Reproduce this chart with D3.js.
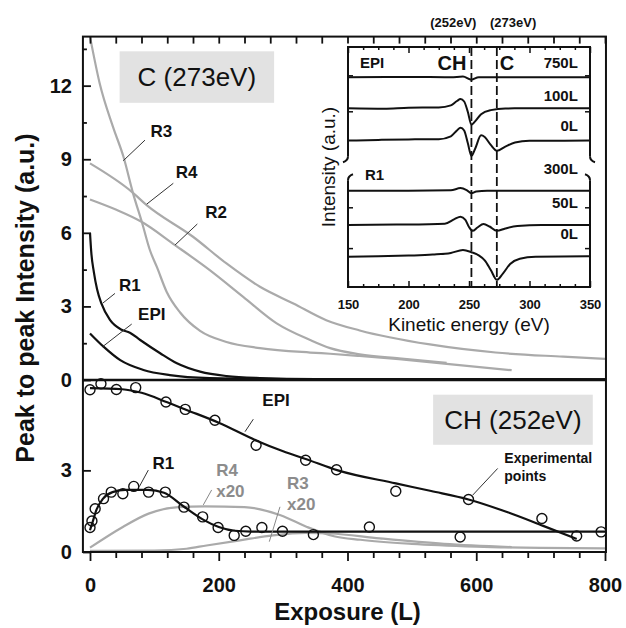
<!DOCTYPE html>
<html>
<head>
<meta charset="utf-8">
<script src="https://cdn.jsdelivr.net/npm/d3@7"></script>
<style>
  body { margin: 0; background: #fff; }
  svg { font-family: "Liberation Sans", Arial, sans-serif; }
</style>
</head>
<body>
<div id="chart"></div>
<script>
// ---- top panel: C (273eV) peak intensity vs exposure
const topR1 = [[0,6.0],[2,5.2],[6,4.4],[11,3.7],[18,3.1],[31,2.45],[49,2.05],[62,1.93],[78,1.63],[109,1.09],[135,0.68],[171,0.34],[212,0.16],[264,0.08],[350,0.04],[800,0.03]];
const topEPI = [[0,1.9],[21,1.36],[47,0.81],[83,0.41],[124,0.2],[186,0.08],[300,0.04],[800,0.03]];
const topR2 = [[0,7.36],[40,6.95],[80,6.45],[132,5.5],[186,4.48],[238,3.39],[290,2.31],[342,1.63],[373,1.3],[419,1.05],[480,0.88],[554,0.7]];
const topR3 = [[0,14],[15,12.1],[36,10.3],[52,9.1],[67,7.6],[81,6.4],[93,5.3],[104,4.6],[119,3.6],[140,2.75],[171,2.0],[212,1.55],[264,1.3],[342,1.12],[373,1.07],[419,0.98],[480,0.85],[554,0.66],[655,0.4]];
const topR4 = [[0,8.83],[65,7.67],[88,7.13],[160,5.84],[212,4.75],[264,3.8],[316,3.12],[367,2.44],[419,2.02],[528,1.45],[630,1.12],[735,0.95],[800,0.86]];

// ---- bottom panel: CH (252eV)
const botEPILine = [[0,6.02],[50,5.98],[80,5.85],[120,5.5],[150,5.22],[200,4.75],[258,4.1],[300,3.7],[335,3.42],[385,3.0],[475,2.52],[530,2.24],[588,1.93],[650,1.45],[704,0.96],[756,0.48]];
const botEPIPoints = [[0,5.96],[17,6.18],[41,5.97],[71,6.04],[118,5.51],[148,5.24],[194,4.84],[258,3.92],[335,3.37],[383,3.02],[475,2.23],[588,1.93],[702,1.23],[756,0.59]];
const botR1Line = [[0,0.8],[4,1.1],[10,1.55],[20,1.95],[35,2.2],[55,2.28],[90,2.28],[115,2.18],[145,1.68],[175,1.2],[200,0.92],[225,0.78],[250,0.75],[800,0.75]];
const botR1Points = [[0,0.9],[3,1.14],[8,1.59],[21,1.96],[33,2.2],[51,2.14],[68,2.41],[91,2.2],[117,2.2],[146,1.65],[175,1.29],[199,0.9],[224,0.61],[242,0.76],[267,0.9],[299,0.76],[347,0.64],[434,0.92],[575,0.55],[794,0.74]];
const botR4x20 = [[0,0.16],[51,0.92],[91,1.41],[137,1.65],[178,1.68],[240,1.65],[296,1.35],[337,0.92],[379,0.58],[420,0.45],[500,0.3],[600,0.2],[700,0.15],[800,0.13]];
const botR3x20 = [[0,0.04],[100,0.05],[150,0.12],[181,0.24],[233,0.43],[284,0.61],[336,0.7],[373,0.68],[450,0.5],[550,0.3],[655,0.18]];

// ---- inset: AES spectra (kinetic energy, offset from baseline)
const insetLabels = ["750L", "100L", "0L", "300L", "50L", "0L"];
const insetBaselines = [87.4, 74.5, 61, 40.1, 25.8, 12.6];
const insetLabelY = [93.5, 80, 67.1, 49.2, 35.4, 22.5];
const spec750 = [[150,0],[200,0.1],[235,0],[245,0.3],[252,-1],[258,0],[300,0],[350,0]];
const spec100 = [[150,0],[180,-0.2],[200,0.2],[225,0.3],[235,1.2],[240,3.0],[243,3.8],[246,2.8],[249,-1.5],[252,-6.9],[255,-5.5],[260,-2.5],[268,-0.8],[280,-0.1],[320,0],[350,0]];
const specEPI0 = [[150,0],[175,0.3],[200,0.5],[225,0.6],[235,1.8],[240,4.2],[243,5.4],[246,4.2],[249,-1],[252,-6.4],[255,-3.5],[260,2.2],[263,1.5],[268,-1.8],[273,-4.2],[280,-2.5],[288,-0.8],[300,-0.1],[350,0]];
const spec300 = [[150,0],[200,0],[235,0.2],[243,1.1],[248,0.3],[252,-1],[256,-0.3],[265,0],[350,0]];
const spec50 = [[150,0],[190,0.2],[230,0.6],[238,2.5],[243,3.5],[247,2.2],[250,-0.8],[253,-2.4],[257,-1],[262,0.4],[267,-0.6],[273,-2.4],[280,-1.4],[290,-0.4],[310,0],[350,0]];
const specR10 = [[150,0],[175,0.2],[200,0.5],[220,0.9],[235,1.6],[245,2.8],[252,1.9],[258,0.6],[263,-1.5],[268,-5.5],[273,-9.6],[278,-7],[284,-3],[292,-0.8],[305,0],[350,0.2]];
const insetSpectra = [spec750, spec100, specEPI0, spec300, spec50, specR10];
const peakLines = [252, 273];
const insetBreak = [44.5, 54.5];

const W = 626, H = 628;
const svg = d3.select("#chart").append("svg").attr("width", W).attr("height", H);

const x = d3.scaleLinear().domain([0, 800]).range([90, 605]);
const yTop = d3.scaleLinear().domain([0, 14]).range([380, 36.6]);
const yBot = d3.scaleLinear().domain([0, 6.32]).range([552, 380]);

const frameL = x(-11), frameR = x(801.5), frameT = yTop(14), frameB = yBot(0), mid = yTop(0);

const black = "#111", grey = "#aaa", greyText = "#8c8c8c";

svg.append("defs").append("clipPath").attr("id", "clipTop")
    .append("rect").attr("x", frameL).attr("y", frameT).attr("width", frameR - frameL).attr("height", mid - frameT);

// label boxes
function box(cx0, cx1, cy0, cy1, ys, txt) {
    svg.append("rect").attr("x", x(cx0)).attr("y", ys(cy1))
        .attr("width", x(cx1) - x(cx0)).attr("height", ys(cy0) - ys(cy1))
        .attr("fill", "#e2e2e2");
    svg.append("text").attr("x", (x(cx0) + x(cx1)) / 2).attr("y", (ys(cy0) + ys(cy1)) / 2)
        .attr("text-anchor", "middle").attr("dominant-baseline", "central")
        .attr("font-size", 26).attr("fill", "#111").text(txt);
}
box(46, 286, 11.3, 13.4, yTop, "C (273eV)");
box(533, 781, 3.94, 5.78, yBot, "CH (252eV)");

// curves
const lineTop = d3.line().x(d => x(d[0])).y(d => yTop(d[1])).curve(d3.curveMonotoneX);
const lineBot = d3.line().x(d => x(d[0])).y(d => yBot(d[1])).curve(d3.curveMonotoneX);

const gTop = svg.append("g").attr("clip-path", "url(#clipTop)");
[topR2, topR3, topR4].forEach(d => {
    gTop.append("path").attr("d", lineTop(d)).attr("fill", "none").attr("stroke", grey).attr("stroke-width", 2.2);
});
[topR1, topEPI].forEach(d => {
    gTop.append("path").attr("d", lineTop(d)).attr("fill", "none").attr("stroke", black).attr("stroke-width", 2.2);
});

[botR4x20, botR3x20].forEach(d => {
    svg.append("path").attr("d", lineBot(d)).attr("fill", "none").attr("stroke", grey).attr("stroke-width", 2.2);
});
[botEPILine, botR1Line].forEach(d => {
    svg.append("path").attr("d", lineBot(d)).attr("fill", "none").attr("stroke", black).attr("stroke-width", 2.2);
});
svg.selectAll(".pt").data(botEPIPoints.concat(botR1Points)).enter().append("circle")
    .attr("class", "pt")
    .attr("cx", d => x(d[0])).attr("cy", d => yBot(d[1])).attr("r", 5)
    .attr("fill", "none").attr("stroke", black).attr("stroke-width", 1.4);

// annotations: [labelL, labelV, text, leader from, leader to]
const topNotes = [
    [111, 10.12, "R3", [85.4, 9.78], [51.7, 8.94]],
    [150, 8.45, "R4", [129.4, 8.02], [88.1, 7.17]],
    [196, 6.81, "R2", [166.7, 6.36], [132, 5.5]],
    [62, 3.87, "R1", [38.8, 3.53], [19.7, 3.13]],
    [96, 2.65, "EPI", [64.8, 2.28], [19.7, 1.36]]
];
topNotes.forEach(n => {
    svg.append("line").attr("x1", x(n[3][0])).attr("y1", yTop(n[3][1])).attr("x2", x(n[4][0])).attr("y2", yTop(n[4][1]))
        .attr("stroke", "#333").attr("stroke-width", 1);
    svg.append("text").attr("x", x(n[0])).attr("y", yTop(n[1])).attr("text-anchor", "middle")
        .attr("dominant-baseline", "central").attr("font-size", 17).attr("font-weight", "bold")
        .attr("fill", black).text(n[2]);
});

const botNotes = [
    [289, 5.55, ["EPI"], [253.7, 4.88], [240.8, 4.42], black, "middle"],
    [114, 3.26, ["R1"], [90.6, 3.01], [76.6, 2.4], black, "middle"],
    [196, 3.01, ["R4", "x20"], [189, 2.28], [176, 1.73], greyText, "start"],
    [306, 2.52, ["R3", "x20"], [295.1, 1.66], [278.5, 0.38], greyText, "start"]
];
botNotes.forEach(n => {
    svg.append("line").attr("x1", x(n[3][0])).attr("y1", yBot(n[3][1])).attr("x2", x(n[4][0])).attr("y2", yBot(n[4][1]))
        .attr("stroke", n[5] === black ? "#333" : "#888").attr("stroke-width", 1);
    n[2].forEach((t, i) => {
        svg.append("text").attr("x", x(n[0])).attr("y", yBot(n[1]) + i * 21).attr("text-anchor", n[6])
            .attr("dominant-baseline", "central").attr("font-size", 17).attr("font-weight", "bold")
            .attr("fill", n[5]).text(t);
    });
});
svg.append("line").attr("x1", x(633.3)).attr("y1", yBot(3.07)).attr("x2", x(594.5)).attr("y2", yBot(2.09))
    .attr("stroke", "#333").attr("stroke-width", 1);
["Experimental", "points"].forEach((t, i) => {
    svg.append("text").attr("x", x(643.6)).attr("y", yBot(3.44) + i * 18).attr("dominant-baseline", "central")
        .attr("font-size", 14).attr("font-weight", "bold").attr("fill", black).text(t);
});

// frame
svg.append("rect").attr("x", frameL).attr("y", frameT).attr("width", frameR - frameL).attr("height", frameB - frameT)
    .attr("fill", "none").attr("stroke", black).attr("stroke-width", 2);
svg.append("line").attr("x1", frameL).attr("x2", frameR).attr("y1", mid).attr("y2", mid)
    .attr("stroke", black).attr("stroke-width", 2.5);

function styleAxis(g, size) {
    g.select(".domain").remove();
    g.selectAll("line").attr("stroke", black).attr("stroke-width", 1.8);
    g.selectAll("text").attr("font-size", size).attr("font-weight", "bold").attr("fill", black)
        .attr("font-family", "Liberation Sans, Arial, sans-serif");
}

// left axes
const axTop = svg.append("g").attr("transform", `translate(${frameL},0)`)
    .call(d3.axisLeft(yTop).tickValues([0, 3, 6, 9, 12]).tickSizeInner(-8).tickSizeOuter(0).tickPadding(11).tickFormat(d3.format("d")));
styleAxis(axTop, 20);
const axTopMinor = svg.append("g").attr("transform", `translate(${frameL},0)`)
    .call(d3.axisLeft(yTop).tickValues([1.5, 4.5, 7.5, 10.5, 13.5]).tickSizeInner(-4).tickSizeOuter(0).tickFormat(""));
styleAxis(axTopMinor, 20);
const axBot = svg.append("g").attr("transform", `translate(${frameL},0)`)
    .call(d3.axisLeft(yBot).tickValues([0, 3]).tickSizeInner(-8).tickSizeOuter(0).tickPadding(11).tickFormat(d3.format("d")));
styleAxis(axBot, 20);

// bottom x axis
const xTicks = d3.range(0, 801, 40);
const axX = svg.append("g").attr("transform", `translate(0,${frameB})`)
    .call(d3.axisBottom(x).tickValues(xTicks).tickSizeInner(6).tickSizeOuter(0).tickPadding(20)
        .tickFormat(d => d % 200 === 0 ? d : ""));
styleAxis(axX, 20);
axX.selectAll(".tick").filter(d => d % 200 === 0).select("line").attr("y2", 9);

// top x ticks
const axX2 = svg.append("g").attr("transform", `translate(0,${frameT})`)
    .call(d3.axisTop(x).tickValues(xTicks).tickSizeInner(-7).tickSizeOuter(0).tickFormat(""));
styleAxis(axX2, 20);

// axis titles
svg.append("text").attr("x", (x(0) + x(800)) / 2).attr("y", 620).attr("text-anchor", "middle")
    .attr("font-size", 24).attr("font-weight", "bold").attr("fill", black).text("Exposure (L)");
svg.append("text").attr("transform", `translate(34,${(yTop(12) + yBot(3)) / 2 + 20}) rotate(-90)`)
    .attr("text-anchor", "middle").attr("font-size", 25).attr("font-weight", "bold").attr("fill", black)
    .text("Peak to peak Intensity (a.u.)");

// ---- inset
const xi = d3.scaleLinear().domain([150, 350]).range([348, 590]);
const yi = d3.scaleLinear().domain([0, 100]).range([287, 47]);
const ins = svg.append("g");
ins.append("rect").attr("x", xi(150)).attr("y", yi(100)).attr("width", xi(350) - xi(150)).attr("height", yi(0) - yi(100))
    .attr("fill", "#fff");

const specLine = (base) => d3.line().x(d => xi(d[0])).y(d => yi(base + d[1])).curve(d3.curveMonotoneX);
insetSpectra.forEach((s, i) => {
    ins.append("path").attr("d", specLine(insetBaselines[i])(s)).attr("fill", "none")
        .attr("stroke", black).attr("stroke-width", 2);
});
peakLines.forEach(e => {
    ins.append("line").attr("x1", xi(e)).attr("x2", xi(e)).attr("y1", yi(100)).attr("y2", yi(0))
        .attr("stroke", black).attr("stroke-width", 1.8).attr("stroke-dasharray", "9,4");
});

// inset frame with axis break
const iL = xi(150), iR = xi(350), iT = yi(100), iB = yi(0), b0 = yi(insetBreak[1]), b1 = yi(insetBreak[0]);
const fr = d3.path();
fr.moveTo(iL, b0); fr.lineTo(iL, iT); fr.lineTo(iR, iT); fr.lineTo(iR, b0);
fr.moveTo(iL, b1); fr.lineTo(iL, iB); fr.lineTo(iR, iB); fr.lineTo(iR, b1);
ins.append("path").attr("d", fr.toString()).attr("fill", "none").attr("stroke", black).attr("stroke-width", 2);
ins.append("path").attr("fill", "none").attr("stroke", black).attr("stroke-width", 2)
    .attr("d", `M${iL},${b0} c0,3 -2,5 -5,6 M${iL},${b1} c0,-3 2,-5 5,-6 M${iR},${b0} c0,3 2,5 5,6 M${iR},${b1} c0,-3 -2,-5 -5,-6`);

const eTicks = d3.range(150, 350.1, 12.5);
const axI = ins.append("g").attr("transform", `translate(0,${iB})`)
    .call(d3.axisBottom(xi).tickValues(eTicks).tickSizeInner(-3).tickSizeOuter(0).tickPadding(13)
        .tickFormat(d => d % 50 === 0 ? d : ""));
styleAxis(axI, 13);
axI.selectAll(".tick").filter(d => d % 50 === 0).select("line").attr("y2", -6);
axI.selectAll("line").attr("stroke-width", 1.5);
const axI2 = ins.append("g").attr("transform", `translate(0,${iT})`)
    .call(d3.axisTop(xi).tickValues(eTicks).tickSizeInner(-3).tickSizeOuter(0).tickFormat(""));
styleAxis(axI2, 13);
axI2.selectAll(".tick").filter(d => d % 50 === 0).select("line").attr("y2", 6);
axI2.selectAll("line").attr("stroke-width", 1.5);
const insYTicks = [16, 33, 73, 88];
insYTicks.forEach(v => {
    ins.append("line").attr("x1", iL).attr("x2", iL + 5).attr("y1", yi(v)).attr("y2", yi(v)).attr("stroke", black).attr("stroke-width", 1.5);
    ins.append("line").attr("x1", iR).attr("x2", iR - 5).attr("y1", yi(v)).attr("y2", yi(v)).attr("stroke", black).attr("stroke-width", 1.5);
});

ins.append("text").attr("x", (iL + iR) / 2).attr("y", iB + 44).attr("text-anchor", "middle")
    .attr("font-size", 19).attr("fill", black).text("Kinetic energy (eV)");
ins.append("text").attr("transform", `translate(335,${yi(50)}) rotate(-90)`).attr("text-anchor", "middle")
    .attr("font-size", 19).attr("fill", black).text("Intensity (a.u.)");

insetLabels.forEach((t, i) => {
    ins.append("text").attr("x", xi(340)).attr("y", yi(insetLabelY[i])).attr("text-anchor", "end")
        .attr("dominant-baseline", "central").attr("font-size", 15).attr("font-weight", "bold")
        .attr("fill", black).text(t);
});
[[170, 93.5, "EPI", 15], [172, 46.7, "R1", 15], [236, 93.5, "CH", 20], [281.4, 93.5, "C", 20]].forEach(d => {
    ins.append("text").attr("x", xi(d[0])).attr("y", yi(d[1])).attr("text-anchor", "middle")
        .attr("dominant-baseline", "central").attr("font-size", d[3]).attr("font-weight", "bold")
        .attr("fill", black).text(d[2]);
});
[[237, "(252eV)"], [286.5, "(273eV)"]].forEach(d => {
    ins.append("text").attr("x", xi(d[0])).attr("y", yi(110.4)).attr("text-anchor", "middle")
        .attr("dominant-baseline", "central").attr("font-size", 13).attr("font-weight", "bold")
        .attr("fill", black).text(d[1]);
});
</script>
</body>
</html>
